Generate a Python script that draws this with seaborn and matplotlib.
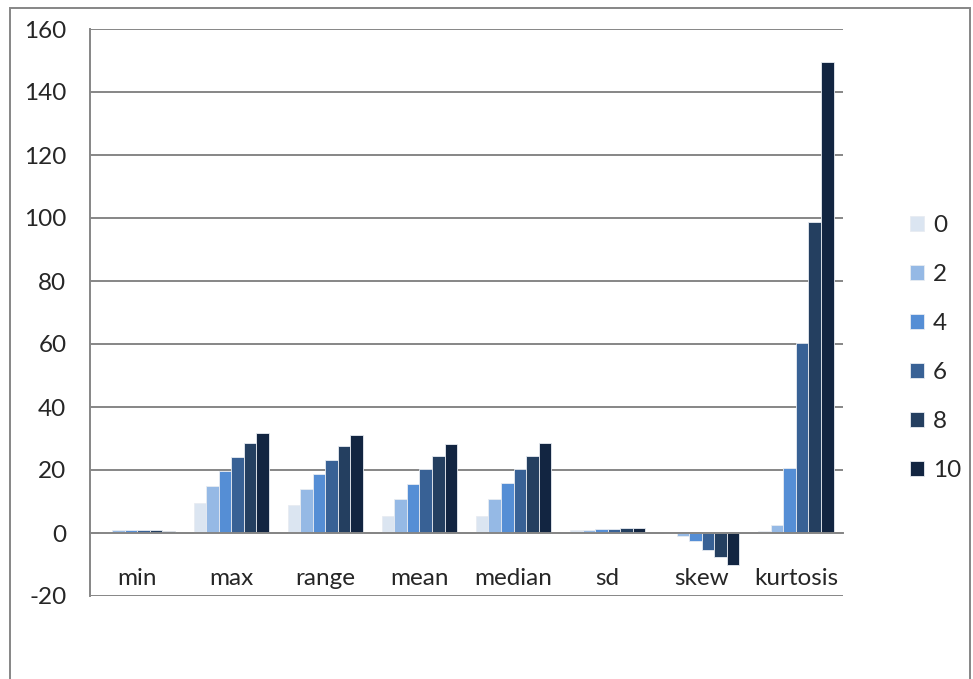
import pandas as pd
import numpy as np
import matplotlib
matplotlib.use('Agg')
import matplotlib.pyplot as plt
import seaborn as sns
from matplotlib.patches import Rectangle

# values
stats = ['min', 'max', 'range', 'mean', 'median', 'sd', 'skew', 'kurtosis']
levels = ['0', '2', '4', '6', '8', '10']

v0 = [0.4, 9.6, 8.8, 5.4, 5.5, 1.0, -0.1, 0.5]
v2 = [0.8, 14.9, 14.0, 10.8, 10.9, 1.1, -0.8, 2.5]
v4 = [0.8, 19.8, 18.7, 15.7, 15.8, 1.2, -2.5, 20.5]
v6 = [0.8, 24.0, 23.1, 20.2, 20.4, 1.3, -5.3, 60.2]
v8 = [0.8, 28.5, 27.6, 24.5, 24.6, 1.5, -7.5, 98.6]
v10 = [0.7, 31.7, 31.1, 28.4, 28.5, 1.6, -10.0, 149.6]

colors = ['#dbe5f1', '#95b9e5', '#558ed5', '#386195', '#243f60', '#122541']

series = [v0, v2, v4, v6, v8, v10]
rows = []
for lvl, vals in zip(levels, series):
    for s, v in zip(stats, vals):
        rows.append({'stat': s, 'level': lvl, 'value': v})
df = pd.DataFrame(rows)

sns.set_style('white')
plt.rcParams['font.family'] = ['Lato', 'DejaVu Sans']
plt.rcParams['axes.unicode_minus'] = False

fig = plt.figure(figsize=(9.73, 6.79), dpi=100)
ax = fig.add_axes([90/973, 1-596/679, (843-90)/973, (596-29)/679])

sns.barplot(data=df, x='stat', y='value', hue='level', order=stats, hue_order=levels,
            palette=colors, saturation=1, width=0.8, edgecolor='#e8ecf2', linewidth=0.6,
            ax=ax, legend=True)

grey = '#868686'
fs = 17.5
ax.set_ylim(-20, 160)
ax.set_xlim(-0.5, 7.5)
ax.set_yticks(range(-20, 161, 20))
ax.yaxis.grid(True, color=grey, linewidth=1.4)
ax.set_axisbelow(True)
ax.set_xlabel('')
ax.set_ylabel('')

for side in ['top', 'right']:
    ax.spines[side].set_visible(False)
ax.spines['left'].set_color(grey)
ax.spines['left'].set_linewidth(1.4)
ax.spines['bottom'].set_position(('data', 0))
ax.spines['bottom'].set_color(grey)
ax.spines['bottom'].set_linewidth(1.4)

# boundary ticks on the zero line, labels centred under each group
ax.set_xticks(np.arange(-0.5, 8, 1.0))
ax.set_xticklabels([])
ax.set_xticks(range(len(stats)), minor=True)
ax.set_xticklabels(stats, minor=True)
ax.tick_params(axis='x', which='major', direction='out', length=8, width=1.4, color=grey)
ax.tick_params(axis='x', which='minor', length=0, pad=25, labelsize=fs)
ax.tick_params(axis='y', direction='out', length=5, width=1.4, color=grey, labelsize=fs, pad=12)

handles, labels = ax.get_legend_handles_labels()
ax.get_legend().remove()
fig.legend(handles, labels, loc='center left', bbox_to_anchor=(888/973, 1-348/679),
           frameon=False, fontsize=fs, handlelength=0.6, handleheight=0.6,
           handletextpad=0.35, labelspacing=1.15)

# outer chart border
fig.patches.append(Rectangle((10/973, -0.02), 960/973, 1.02 - 8/679, transform=fig.transFigure,
                             fill=False, edgecolor=grey, linewidth=1.4))

fig.savefig('out.png', dpi=100)
